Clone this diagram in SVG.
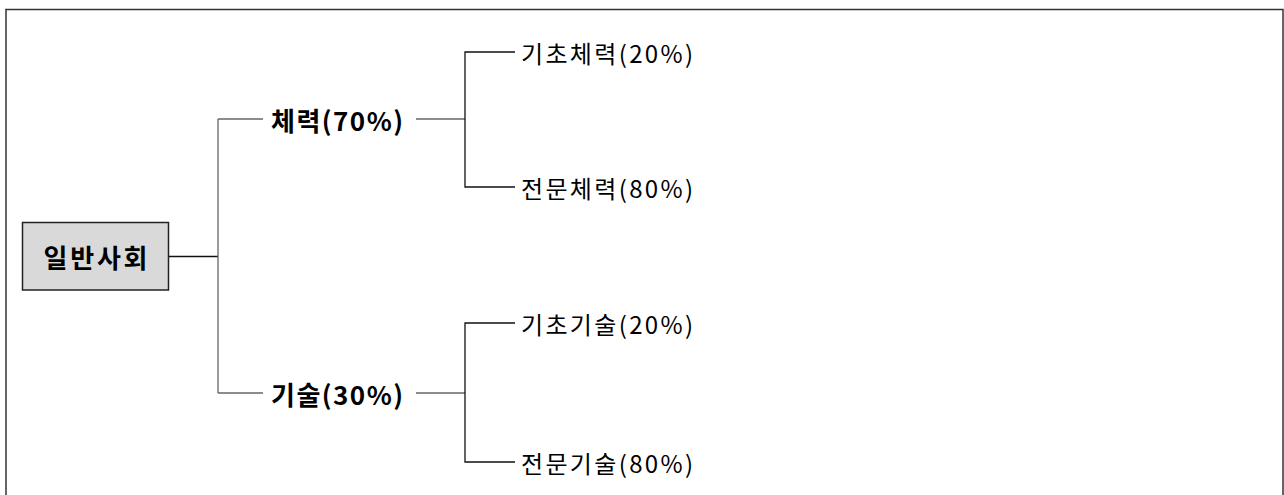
<svg xmlns="http://www.w3.org/2000/svg" width="1284" height="495" viewBox="0 0 1284 495">
<style>
.t{font-family:"Noto Sans CJK KR","Noto Sans",sans-serif;dominant-baseline:central;fill:#000}
.b{font-weight:bold;font-size:26px}
.n{font-size:24px}
.g{stroke:#666;stroke-width:1.3;fill:none}
.k{stroke:#111;stroke-width:1.3;fill:none}
</style>
<rect x="0" y="0" width="1284" height="495" fill="#fff"/>
<path d="M6,505 V9.5 H1283 V505" fill="none" stroke="#333" stroke-width="1.5"/>
<g id="connectors">
<path class="k" d="M168,256.5 H218"/>
<path class="g" d="M218,119 V393"/>
<path class="g" d="M218,119 H263"/>
<path class="g" d="M218,393 H263"/>
<path class="g" d="M416,119 H465"/>
<path class="g" d="M416,393 H465"/>
<path class="k" d="M515,52 H465 V187 H515"/>
<path class="k" d="M515,323 H465 V462 H515"/>
</g>
<g id="root">
<rect x="22.5" y="222.5" width="146" height="67.5" fill="#d9d9d9" stroke="#222" stroke-width="1.5"/>
<text class="t b" x="95.5" y="256" text-anchor="middle" textLength="104">일반사회</text>
</g>
<g id="n-physical"><text class="t b" x="271" y="119" textLength="132">체력(70%)</text></g>
<g id="n-skill"><text class="t b" x="271" y="393" textLength="132">기술(30%)</text></g>
<g id="n-basic-phys"><text class="t n" x="521" y="52" textLength="172">기초체력(20%)</text></g>
<g id="n-spec-phys"><text class="t n" x="521" y="187" textLength="172">전문체력(80%)</text></g>
<g id="n-basic-skill"><text class="t n" x="521" y="323" textLength="172">기초기술(20%)</text></g>
<g id="n-spec-skill"><text class="t n" x="521" y="462" textLength="172">전문기술(80%)</text></g>
</svg>
